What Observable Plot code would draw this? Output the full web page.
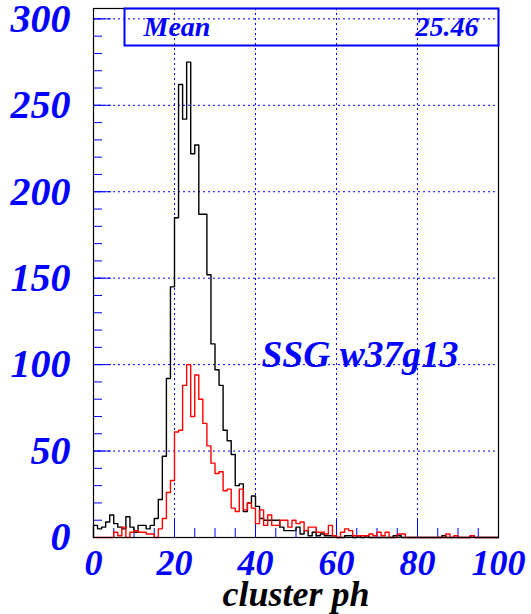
<!DOCTYPE html>
<html><head><meta charset="utf-8">
<script src="https://cdn.jsdelivr.net/npm/d3@7"></script>
<script src="https://cdn.jsdelivr.net/npm/@observablehq/plot@0.6"></script>
<style>body{margin:0;background:#fff;} #chart{width:531px;height:614px;}</style>
</head><body><div id="chart"></div>
<script>
// ---- data ----
const blackCounts = [
  7,5,6,9,13,8,6,5,12,6,3,7,7,5,7,11,
  22,47,92,145,185,262,242,275,222,227,187,187,152,112,97,88,62,56,48,30,31,15,20,24,18,11,10,10,10,10,
  6,4,4,4,6,2,4,1,3,1,2,1,1,1,
  0,0,1,1,0,1,0,1,0,0,0,0,0,0,1,1,0,0,0,0,0,0,0,0,0,0,1,0,0,0,0,0,0,1,0,0,0,0,0,0
];
const redCounts = [
  0,0,0,0,0,3,1,6,0,3,4,3,3,2,2,0,
  5,11,26,33,61,62,88,100,70,94,80,66,53,43,37,38,27,28,17,15,28,16,20,17,8,16,7,13,7,7,
  10,10,6,10,8,9,4,6,6,3,3,2,7,1,
  0,3,5,4,1,1,1,1,2,1,3,1,3,0,0,2,2,0,0,0,0,0,0,0,0,0,0,2,0,1,0,0,0,1,0,0,0,0,0,0
];
const binStart = 0, binWidth = 1;
const xTicks = [0, 20, 40, 60, 80, 100];
const yTicks = [0, 50, 100, 150, 200, 250, 300];
const xGrid = [20, 40, 60, 80];
const yGrid = [50, 100, 150, 200, 250, 300];
const xMinor = d3.range(0, 101, 5);
const yMinor = d3.range(0, 301, 10);
const statLabel = "Mean";
const statValue = "25.46";
const histTitle = "SSG w37g13";
const xTitle = "cluster ph";

// ---- build step outlines ----
function outline(counts) {
  const pts = [{x: binStart, y: 0}];
  counts.forEach((c, i) => {
    pts.push({x: binStart + i * binWidth, y: c});
    pts.push({x: binStart + (i + 1) * binWidth, y: c});
  });
  pts.push({x: binStart + counts.length * binWidth, y: 0});
  return pts;
}

const blue = "#0000ff";
const font = "Liberation Serif";
const W = 531, H = 614, mL = 93, mR = 33, mT = 8, mB = 77;
const fw = W - mL - mR, fh = H - mT - mB;

const chart = Plot.plot({
  width: W, height: H,
  marginLeft: mL, marginRight: mR, marginTop: mT, marginBottom: mB,
  x: {domain: [0, 100]},
  y: {domain: [0, 306]},
  style: {fontFamily: font, background: "white", overflow: "visible"},
  marks: [
    Plot.ruleX(xGrid, {stroke: blue, strokeDasharray: "2,3", strokeWidth: 1}),
    Plot.ruleY(yGrid, {stroke: blue, strokeDasharray: "2,3", strokeWidth: 1}),
    // inner ticks
    Plot.tickX(xMinor, {x: d => d, stroke: blue, insetTop: fh - 9}),
    Plot.tickX(xTicks, {x: d => d, stroke: blue, insetTop: fh - 18}),
    Plot.tickY(yMinor, {y: d => d, stroke: blue, insetRight: fw - 9}),
    Plot.tickY(yTicks, {y: d => d, stroke: blue, insetRight: fw - 18}),
    Plot.line(outline(blackCounts), {x: "x", y: "y", stroke: "black", strokeWidth: 1.4}),
    Plot.line(outline(redCounts), {x: "x", y: "y", stroke: "#ff0000", strokeWidth: 1.4}),
    Plot.frame({stroke: "black", strokeWidth: 1.2}),
    Plot.axisY(yTicks, {tickSize: 0, tickPadding: 23, color: blue, fontSize: 40, fontWeight: "bold", fontStyle: "italic", fontFamily: font, label: null}),
    Plot.axisX(xTicks, {tickSize: 0, tickPadding: 12, color: blue, fontSize: 36, fontWeight: "bold", fontStyle: "italic", fontFamily: font, label: null}),
    Plot.text([xTitle], {frameAnchor: "bottom", dy: 57, lineAnchor: "middle", fontSize: 36, fontWeight: "bold", fontStyle: "italic", fill: "black", fontFamily: font}),
    // stats box
    Plot.frame({stroke: blue, strokeWidth: 2, insetLeft: 31, insetBottom: fh - 37}),
    Plot.text([statLabel], {frameAnchor: "top-left", dx: 50, dy: 19, lineAnchor: "middle", textAnchor: "start", fontSize: 28, fontWeight: "bold", fontStyle: "italic", fill: blue, fontFamily: font}),
    Plot.text([statValue], {frameAnchor: "top-right", dx: -20, dy: 19, lineAnchor: "middle", textAnchor: "end", fontSize: 28, fontWeight: "bold", fontStyle: "italic", fill: blue, fontFamily: font}),
    Plot.text([histTitle], {frameAnchor: "left", dx: 168, dy: 82, lineAnchor: "middle", textAnchor: "start", fontSize: 37.5, fontWeight: "bold", fontStyle: "italic", fill: blue, fontFamily: font})
  ]
});
document.getElementById("chart").appendChild(chart);
</script>
</body></html>
